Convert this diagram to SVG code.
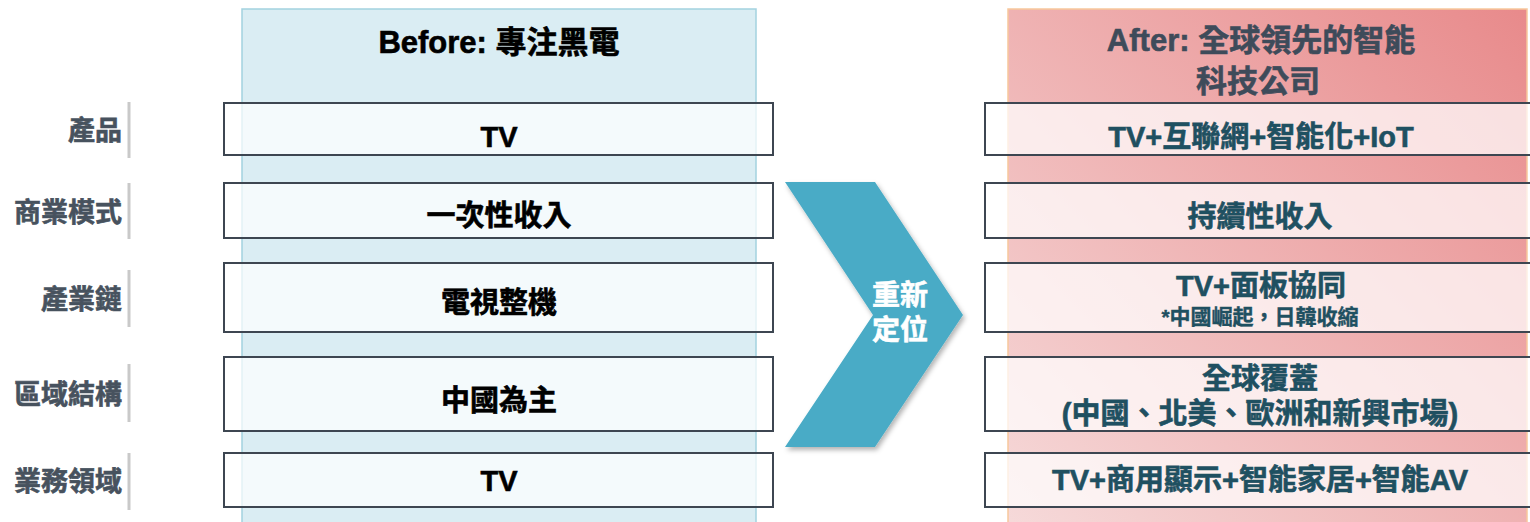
<svg xmlns="http://www.w3.org/2000/svg" width="1530" height="522" viewBox="0 0 1530 522">
<style>
text{font-family:"Liberation Sans","Noto Sans CJK TC",sans-serif;font-weight:bold;text-anchor:middle;dominant-baseline:central;stroke-width:0.6}
.lbl{font-size:27px;fill:#47525e;stroke:#47525e;text-anchor:end}
.bar{stroke:#c9c9c9;stroke-width:3}
.lbox{fill:#ffffff;fill-opacity:0.7;stroke:#3d4651;stroke-width:2}
.rbox{fill:#ffffff;fill-opacity:0.72;stroke:#3d4651;stroke-width:2}
.lt{font-size:29px;fill:#000000;stroke:#000000}
.rt{font-size:29px;fill:#1f5061;stroke:#1f5061}
.small{font-size:21px;stroke-width:0.4}
.hdr{font-size:31px}
.bh{fill:#000000;stroke:#000000}
.ah{fill:#3e4b5a;stroke:#3e4b5a}
.cv{font-size:28px;fill:#ffffff;stroke:#ffffff}
</style>
<defs>
<linearGradient id="pink" x1="0" y1="1" x2="1" y2="0">
<stop offset="0" stop-color="#f6dada"/>
<stop offset="1" stop-color="#e88a8b"/>
</linearGradient>
<filter id="sh" x="-10%" y="-10%" width="130%" height="130%">
<feDropShadow dx="2" dy="3" stdDeviation="2.5" flood-color="#000" flood-opacity="0.3"/>
</filter>
</defs>

<g id="panel-before">
<rect x="242" y="9" width="514" height="520" fill="#daedf3" stroke="#a3d2df" stroke-width="1.5"/>
<text class="hdr bh" x="499" y="42">Before: 專注黑電</text>
</g>
<g id="panel-after">
<rect x="1008" y="9" width="519" height="520" fill="url(#pink)" stroke="#f7c89c" stroke-width="1.5"/>
<text class="hdr ah" x="1261" y="40">After: 全球領先的智能</text>
<text class="hdr ah" x="1258" y="81">科技公司</text>
</g>

<g id="labels">
<g id="label-product"><line class="bar" x1="129" y1="102" x2="129" y2="158"/><text class="lbl" x="122" y="131">產品</text></g>
<g id="label-business"><line class="bar" x1="129" y1="183" x2="129" y2="239"/><text class="lbl" x="122" y="213">商業模式</text></g>
<g id="label-chain"><line class="bar" x1="129" y1="270" x2="129" y2="327"/><text class="lbl" x="122" y="300">產業鏈</text></g>
<g id="label-region"><line class="bar" x1="129" y1="364" x2="129" y2="422"/><text class="lbl" x="122" y="395">區域結構</text></g>
<g id="label-domain"><line class="bar" x1="129" y1="453" x2="129" y2="510"/><text class="lbl" x="122" y="482">業務領域</text></g>
</g>

<g id="before-rows">
<g id="b1"><rect class="lbox" x="224" y="103" width="549" height="52"/><text class="lt" x="499" y="137">TV</text></g>
<g id="b2"><rect class="lbox" x="224" y="183" width="549" height="55"/><text class="lt" x="499" y="216">一次性收入</text></g>
<g id="b3"><rect class="lbox" x="224" y="263" width="549" height="69"/><text class="lt" x="499" y="303">電視整機</text></g>
<g id="b4"><rect class="lbox" x="224" y="357" width="549" height="74"/><text class="lt" x="499" y="401">中國為主</text></g>
<g id="b5"><rect class="lbox" x="224" y="453" width="549" height="54"/><text class="lt" x="499" y="481">TV</text></g>
</g>

<g id="chevron">
<polygon points="785,182 875,182 963,315 875,447 785,447 873,315" fill="#4aabc6" filter="url(#sh)"/>
<text class="cv" x="900" y="295">重新</text>
<text class="cv" x="900" y="330">定位</text>
</g>

<g id="after-rows">
<g id="a1"><rect class="rbox" x="985" y="103" width="560" height="52"/><text class="rt" x="1261" y="137">TV+互聯網+智能化+IoT</text></g>
<g id="a2"><rect class="rbox" x="985" y="183" width="560" height="55"/><text class="rt" x="1260" y="217">持續性收入</text></g>
<g id="a3"><rect class="rbox" x="985" y="263" width="560" height="69"/><text class="rt" x="1261" y="286">TV+面板協同</text><text class="rt small" x="1260" y="316">*中國崛起，日韓收縮</text></g>
<g id="a4"><rect class="rbox" x="985" y="357" width="560" height="74"/><text class="rt" x="1260" y="379">全球覆蓋</text><text class="rt" x="1260" y="414">(中國、北美、歐洲和新興市場)</text></g>
<g id="a5"><rect class="rbox" x="985" y="453" width="560" height="54"/><text class="rt" x="1260" y="480">TV+商用顯示+智能家居+智能AV</text></g>
</g>
<g id="connectors"/>
</svg>
